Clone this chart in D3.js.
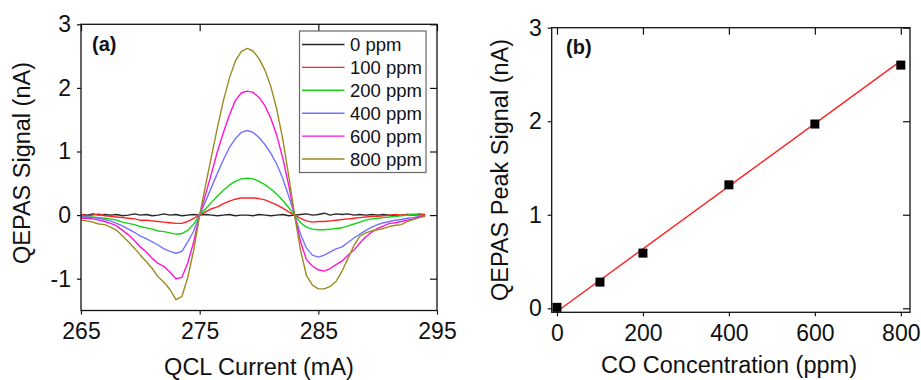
<!DOCTYPE html>
<html>
<head>
<meta charset="utf-8">
<script src="https://cdn.jsdelivr.net/npm/d3@7"></script>
<style>
  body { margin: 0; background: #fff; }
  svg text { font-family: "Liberation Sans", Arial, sans-serif; fill: #111; }
</style>
</head>
<body>
<div id="chart"></div>
<script>
// ---- panel (a): QEPAS signal vs QCL current ----
const current = [265, 265.5, 266, 266.5, 267, 267.5, 268, 268.5, 269, 269.5,
    270, 270.5, 271, 271.5, 272, 272.5, 273, 273.5, 274, 274.5,
    275, 275.5, 276, 276.5, 277, 277.5, 278, 278.5, 279, 279.5,
    280, 280.5, 281, 281.5, 282, 282.5, 283, 283.5, 284, 284.5,
    285, 285.5, 286, 286.5, 287, 287.5, 288, 288.5, 289, 289.5,
    290, 290.5, 291, 291.5, 292, 292.5, 293, 293.5, 294];

const ppm0 = [0.01, 0.00, 0.02, 0.00, 0.01, 0.00, 0.01, -0.01, 0.00, 0.02,
    0.00, 0.01, -0.01, 0.00, 0.02, 0.00, 0.01, -0.01, 0.00, 0.01,
    0.00, 0.01, 0.00, -0.01, 0.00, 0.01, -0.01, 0.00, 0.00, -0.01,
    0.01, 0.00, -0.01, 0.00, 0.01, -0.01, 0.00, 0.01, 0.02, 0.00,
    0.01, 0.03, 0.00, 0.02, 0.01, 0.02, 0.00, 0.01, 0.00, 0.01,
    0.00, 0.01, 0.00, -0.01, 0.00, 0.01, 0.00, 0.01, 0.00];
const ppm100 = [0.01, -0.01, 0.00, 0.02, -0.01, -0.02, -0.03, -0.04, -0.05, -0.06,
    -0.08, -0.08, -0.09, -0.10, -0.11, -0.12, -0.13, -0.13, -0.10, -0.05,
    0.00, 0.05, 0.10, 0.13, 0.18, 0.22, 0.25, 0.27, 0.27, 0.27,
    0.26, 0.24, 0.20, 0.16, 0.11, 0.05, 0.00, -0.05, -0.09, -0.11,
    -0.10, -0.10, -0.09, -0.08, -0.07, -0.06, -0.05, -0.04, -0.03, -0.02,
    -0.02, -0.01, 0.00, 0.01, 0.00, 0.01, 0.01, 0.02, 0.01];
const ppm200 = [-0.02, -0.03, -0.03, -0.04, -0.05, -0.06, -0.08, -0.11, -0.13, -0.15,
    -0.18, -0.20, -0.22, -0.25, -0.26, -0.28, -0.30, -0.29, -0.24, -0.14,
    0.00, 0.10, 0.20, 0.30, 0.39, 0.47, 0.53, 0.57, 0.58, 0.57,
    0.53, 0.48, 0.41, 0.33, 0.23, 0.12, 0.00, -0.12, -0.19, -0.22,
    -0.23, -0.23, -0.22, -0.21, -0.20, -0.17, -0.14, -0.11, -0.08, -0.06,
    -0.05, -0.04, -0.03, -0.02, -0.01, 0.00, 0.01, 0.00, -0.01];
const ppm400 = [-0.03, -0.03, -0.04, -0.05, -0.07, -0.09, -0.13, -0.17, -0.22, -0.27,
    -0.33, -0.37, -0.42, -0.47, -0.53, -0.57, -0.60, -0.57, -0.42, -0.25,
    0.00, 0.22, 0.44, 0.66, 0.87, 1.06, 1.20, 1.30, 1.33, 1.30,
    1.22, 1.11, 0.97, 0.80, 0.58, 0.30, 0.00, -0.30, -0.52, -0.63,
    -0.66, -0.63, -0.58, -0.53, -0.50, -0.43, -0.36, -0.30, -0.24, -0.19,
    -0.15, -0.12, -0.10, -0.08, -0.07, -0.05, -0.04, -0.02, -0.01];
const ppm600 = [-0.05, -0.05, -0.06, -0.08, -0.10, -0.13, -0.17, -0.24, -0.31, -0.40,
    -0.50, -0.58, -0.68, -0.76, -0.81, -0.90, -1.00, -0.98, -0.75, -0.42,
    0.00, 0.33, 0.66, 1.00, 1.30, 1.57, 1.80, 1.92, 1.95, 1.93,
    1.85, 1.72, 1.52, 1.25, 0.90, 0.47, 0.00, -0.42, -0.70, -0.80,
    -0.86, -0.88, -0.84, -0.78, -0.72, -0.63, -0.55, -0.44, -0.34, -0.27,
    -0.21, -0.17, -0.13, -0.12, -0.10, -0.08, -0.06, -0.03, -0.01];
const ppm800 = [-0.08, -0.09, -0.11, -0.14, -0.15, -0.19, -0.24, -0.33, -0.42, -0.52,
    -0.63, -0.73, -0.84, -0.97, -1.06, -1.17, -1.33, -1.28, -0.98, -0.55,
    0.00, 0.47, 0.93, 1.38, 1.80, 2.15, 2.42, 2.57, 2.62, 2.58,
    2.46, 2.28, 2.02, 1.66, 1.20, 0.62, 0.00, -0.55, -0.95, -1.10,
    -1.16, -1.16, -1.12, -1.04, -0.88, -0.68, -0.48, -0.33, -0.28, -0.25,
    -0.23, -0.21, -0.18, -0.16, -0.15, -0.10, -0.07, -0.04, -0.02];

const seriesNames = ['0 ppm', '100 ppm', '200 ppm', '400 ppm', '600 ppm', '800 ppm'];
const seriesValues = [ppm0, ppm100, ppm200, ppm400, ppm600, ppm800];
const seriesColors = ['#262626', '#ff2424', '#14d214', '#7373ff', '#ff14d2', '#9c8a22'];

// ---- panel (b): peak signal vs CO concentration ----
const conc = [0, 100, 200, 400, 600, 800];
const peak = [0.01, 0.28, 0.59, 1.32, 1.97, 2.60];
const fitSlope = 0.00335, fitIntercept = -0.035;

const xTicksA = [265, 275, 285, 295], yTicksA = [-1, 0, 1, 2, 3];
const xTicksB = [0, 200, 400, 600, 800], yTicksB = [0, 1, 2, 3];

const svg = d3.select('#chart').append('svg')
    .attr('width', 921)
    .attr('height', 380);

function frame(x, y, xMajor, xMinor, yMajor, yMinor, yFmt) {
    const g = svg.append('g');
    const [x0, x1] = x.range(), [y0, y1] = y.range();

    // bottom: outward ticks + labels
    const bottom = g.append('g').attr('transform', 'translate(0,' + y0 + ')');
    bottom.call(d3.axisBottom(x).tickValues(xMinor).tickSize(3).tickFormat(''));
    bottom.call(d3.axisBottom(x).tickValues(xMajor).tickSize(4).tickPadding(8));
    // top: inward ticks
    const top = g.append('g').attr('transform', 'translate(0,' + y1 + ')');
    top.call(d3.axisTop(x).tickValues(xMinor).tickSize(-4).tickFormat(''));
    top.call(d3.axisTop(x).tickValues(xMajor).tickSize(-7).tickFormat(''));
    // left: outward ticks + labels
    const left = g.append('g').attr('transform', 'translate(' + x0 + ',0)');
    left.call(d3.axisLeft(y).tickValues(yMinor).tickSize(3).tickFormat(''));
    left.call(d3.axisLeft(y).tickValues(yMajor).tickSize(4).tickPadding(6).tickFormat(yFmt));
    // right: inward ticks
    const right = g.append('g').attr('transform', 'translate(' + x1 + ',0)');
    right.call(d3.axisRight(y).tickValues(yMinor).tickSize(-4).tickFormat(''));
    right.call(d3.axisRight(y).tickValues(yMajor).tickSize(-7).tickFormat(''));

    g.selectAll('.domain').remove();
    g.selectAll('.tick line').attr('stroke', '#111').attr('stroke-width', 1.2);
    g.selectAll('.tick text').style('font-size', '23px').attr('fill', '#111');

    g.append('rect')
        .attr('x', x0).attr('y', y1)
        .attr('width', x1 - x0).attr('height', y0 - y1)
        .attr('fill', 'none').attr('stroke', '#111').attr('stroke-width', 1.3);
    return g;
}

// ---------- panel (a) ----------
const xA = d3.scaleLinear().domain([265, 295]).range([81, 437]);
const yA = d3.scaleLinear().domain([-1.5, 3]).range([310.5, 24.3]);

svg.append('clipPath').attr('id', 'clipA').append('rect')
    .attr('x', 81).attr('y', 24.3).attr('width', 356).attr('height', 286.2);

const lineA = d3.line()
    .x((d, i) => xA(current[i]))
    .y(d => yA(d));

svg.append('g').attr('clip-path', 'url(#clipA)')
    .selectAll('path')
    .data(seriesValues)
    .enter().append('path')
    .attr('d', lineA)
    .attr('fill', 'none')
    .attr('stroke', (d, i) => seriesColors[i])
    .attr('stroke-width', 1.4)
    .attr('stroke-linejoin', 'round');

frame(xA, yA, xTicksA, [270, 280, 290], yTicksA, [-1.5, -0.5, 0.5, 1.5, 2.5],
    d => d < 0 ? '-' + Math.abs(d) : d);

// legend
const legend = svg.append('g');
legend.append('rect')
    .attr('x', 299.5).attr('y', 31)
    .attr('width', 126.5).attr('height', 141.5)
    .attr('fill', '#fff').attr('stroke', '#666').attr('stroke-width', 1.2);
seriesNames.forEach(function(name, i) {
    const ly = 44.5 + i * 22.9;
    legend.append('line')
        .attr('x1', 302).attr('x2', 344.5)
        .attr('y1', ly).attr('y2', ly)
        .attr('stroke', seriesColors[i]).attr('stroke-width', 1.4);
    legend.append('text')
        .attr('x', 350).attr('y', ly + 6.5)
        .style('font-size', '18.5px')
        .text(name);
});

svg.append('text')
    .attr('x', 92).attr('y', 51)
    .style('font-size', '20px').style('font-weight', 'bold')
    .text('(a)');

svg.append('text')
    .attr('transform', 'translate(30,' + 163 + ') rotate(-90)')
    .attr('text-anchor', 'middle')
    .style('font-size', '23.5px')
    .text('QEPAS Signal (nA)');

svg.append('text')
    .attr('x', 259).attr('y', 375)
    .attr('text-anchor', 'middle')
    .style('font-size', '23.5px')
    .text('QCL Current (mA)');

// ---------- panel (b) ----------
const xB = d3.scaleLinear().domain([-12.3, 821.4]).range([551.7, 910]);
const yB = d3.scaleLinear().domain([-0.043, 3]).range([312.3, 27.7]);

svg.append('line')
    .attr('x1', xB(0)).attr('y1', yB(fitIntercept))
    .attr('x2', xB(800)).attr('y2', yB(fitIntercept + fitSlope * 800))
    .attr('stroke', '#ff2020').attr('stroke-width', 1.4);

svg.append('g').selectAll('rect')
    .data(conc)
    .enter().append('rect')
    .attr('x', d => xB(d) - 4.5)
    .attr('y', (d, i) => yB(peak[i]) - 4.5)
    .attr('width', 9).attr('height', 9)
    .attr('fill', '#000');

frame(xB, yB, xTicksB, [100, 300, 500, 700], yTicksB, [0.5, 1.5, 2.5], d => d);

svg.append('text')
    .attr('x', 566).attr('y', 54)
    .style('font-size', '20px').style('font-weight', 'bold')
    .text('(b)');

svg.append('text')
    .attr('transform', 'translate(508,' + 170 + ') rotate(-90)')
    .attr('text-anchor', 'middle')
    .style('font-size', '23.5px')
    .text('QEPAS Peak Signal (nA)');

svg.append('text')
    .attr('x', 729).attr('y', 373)
    .attr('text-anchor', 'middle')
    .style('font-size', '23.5px')
    .text('CO Concentration (ppm)');
</script>
</body>
</html>
